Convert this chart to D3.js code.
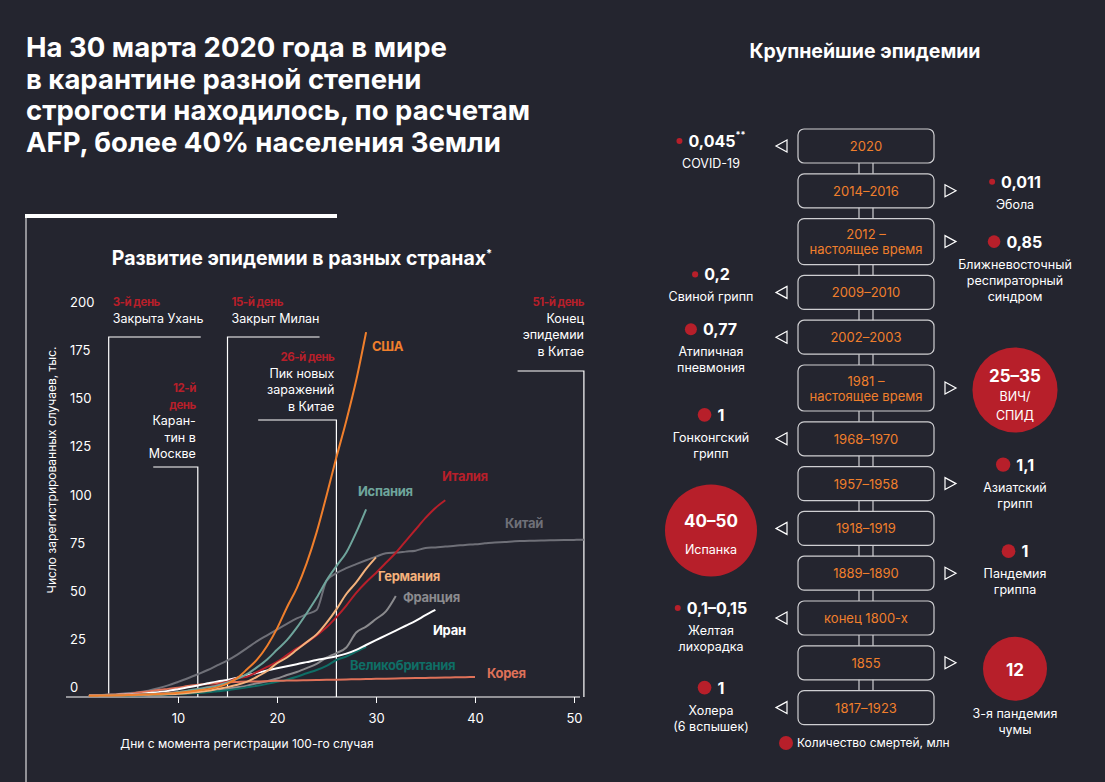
<!DOCTYPE html>
<html><head><meta charset="utf-8">
<script src="https://cdn.jsdelivr.net/npm/d3@7"></script>
<style>body{margin:0;background:#24252f}svg{display:block}text{font-family:"Helvetica Neue",Inter,"Liberation Sans",sans-serif}</style>
</head><body><svg id="c" width="1105" height="782"></svg>
<script>
// ---- data: confirmed cases, thousands, by day since 100th case (day 1..n)
const countries = ['США','Испания','Италия','Китай','Германия','Франция','Иран','Великобритания','Корея'];
const usa = [0.1,0.2,0.3,0.4,0.5,0.6,0.8,1.0,1.3,1.7,2.2,2.9,3.5,4.6,6.4,9.4,14,19,26,35,46,56,69,85,104,124,143,164,189];
const spain = [0.1,0.2,0.3,0.4,0.5,0.7,0.9,1.2,1.6,2.1,2.8,3.6,4.5,5.5,7,9,11.5,15,19,24,29,35.5,43,51,60,67.5,74.5,85,97];
const italy = [0.15,0.2,0.3,0.4,0.6,0.8,1.0,1.2,1.7,2.0,2.5,3.1,4.6,5.9,7.4,9.2,10.1,12.5,15.1,17.7,21.2,24.7,27.9,31.5,35.7,41,47,53.6,59.1,63.9,69.2,74.4,80.5,86.5,92.5,97.7,101.7];
const china = [0.3,0.5,0.8,1.1,1.5,2.0,2.8,4.0,5.5,7.3,9.2,11.3,13.5,16,18.5,21.5,25,28.5,31.5,34.5,37.5,40.3,42.5,44.7,59.8,63.8,66.4,68.5,70.5,72.4,74.1,74.5,75,75.5,76.9,77.2,77.7,78.0,78.5,78.8,79.3,79.8,80.0,80.4,80.5,80.7,80.8,80.9,81.0,81.1,81.2];
const germany = [0.1,0.15,0.2,0.3,0.4,0.5,0.7,0.8,1.0,1.2,1.6,2.1,2.7,3.7,4.6,5.8,7.5,10,13,17,20,24,28,32,38,45,53,59,66,72];
const france = [0.1,0.13,0.18,0.2,0.3,0.4,0.6,0.7,0.9,1.1,1.4,1.8,2.3,2.9,3.7,4.5,5.4,6.6,7.7,9.1,10.9,12.5,14.5,16.7,19.9,22.3,25.2,33,36,40,44,52];
const iran = [0.15,0.25,0.4,0.6,0.8,1.0,1.5,2.0,2.6,3.5,4.5,5.5,6.6,7.6,8.3,9.5,10.8,12,13.2,14.4,15.5,16.5,17.6,18.7,19.6,20.6,22,24,26.5,29,31.5,34,36.5,39,42,44.7];
const uk = [0.1,0.15,0.2,0.25,0.3,0.4,0.5,0.6,0.8,1.0,1.3,1.6,2.0,2.5,3.0,3.7,4.5,5.3,6.3,7.4,8.5,10,11.8,13.5,15.7,18.7,20.5,23,25.6];
const korea = [0.2,0.35,0.6,0.8,1.1,1.8,2.3,3.1,3.7,4.3,5.2,5.8,6.3,6.8,7.1,7.3,7.5,7.5,7.7,7.9,8.0,8.1,8.2,8.3,8.4,8.5,8.6,8.7,8.8,8.9,9.0,9.1,9.2,9.3,9.4,9.5,9.6,9.7,9.8,9.9];
const xTicks = [10,20,30,40,50];
const yTicks = [0,25,50,75,100,125,150,175,200];
// events: day, red head, text lines
const eventDays = [3,12,15,26,51];
const eventHeads = ['3-й день',['12-й','день'],'15-й день','26-й день','51-й день'];
const eventTexts = [['Закрыта Ухань'],['Каран-','тин в','Москве'],['Закрыт Милан'],['Пик новых','заражений','в Китае'],['Конец','эпидемии','в Китае']];

// epidemics timeline
const periods = ['2020','2014–2016','2012 –|настоящее время','2009–2010','2002–2003','1981 –|настоящее время','1968–1970','1957–1958','1918–1919','1889–1890','конец 1800-х','1855','1817–1923'];
const sides = ['L','R','R','L','L','R','L','R','L','R','L','R','L'];
const deathLabels = ['0,045','0,011','0,85','0,2','0,77','25–35','1','1,1','40–50','1','0,1–0,15','12','1'];
const deathValues = [0.045,0.011,0.85,0.2,0.77,30,1,1.1,45,1,0.125,12,1];
const names = [['COVID-19'],['Эбола'],['Ближневосточный','респираторный','синдром'],['Свиной грипп'],['Атипичная','пневмония'],['ВИЧ/','СПИД'],['Гонконгский','грипп'],['Азиатский','грипп'],['Испанка'],['Пандемия','гриппа'],['Желтая','лихорадка'],['3-я пандемия','чумы'],['Холера','(6 вспышек)']];

// ---- layout
const svg = d3.select('#c');
const W = 1105, H = 782;
const colors = {'США':'#f07f2c','Испания':'#6fa59c','Италия':'#b81f2a','Китай':'#6f7078','Германия':'#f4b27c','Франция':'#8b8b8e','Иран':'#ffffff','Великобритания':'#0f6e66','Корея':'#df7159'};
const seriesArr = [usa,spain,italy,china,germany,france,iran,uk,korea];
const labelPos = {'США':[372,351],'Испания':[358,496],'Италия':[442,481],'Китай':[505,528],'Германия':[378,581],'Франция':[403,602],'Иран':[433,635],'Великобритания':[350,670],'Корея':[487,678]};
const red = '#b71f2a';

svg.append('rect').attr('width',W).attr('height',H).attr('fill','#24252f');

// title
const title = ['На 30 марта 2020 года в мире','в карантине разной степени','строгости находилось, по расчетам','AFP, более 40% населения Земли'];
svg.append('g').selectAll('text').data(title).join('text')
  .attr('x',26).attr('y',(d,i)=>57+i*31.5)
  .attr('fill','#fff').attr('font-family','"Liberation Serif",serif').attr('font-weight','bold').attr('font-size',27.5)
  .text(d=>d);

svg.append('line').attr('x1',25).attr('x2',337).attr('y1',216).attr('y2',216).attr('stroke','#fff').attr('stroke-width',4);
svg.append('line').attr('x1',26).attr('x2',26).attr('y1',216).attr('y2',782).attr('stroke','#fff').attr('stroke-width',1);

const st = svg.append('text').attr('x',302).attr('y',265).attr('text-anchor','middle')
  .attr('fill','#fff').attr('font-family','"Liberation Serif",serif').attr('font-weight','bold').attr('font-size',19.5);
st.append('tspan').text('Развитие эпидемии в разных странах');
st.append('tspan').attr('font-size',11).attr('dy',-8).text('*');

// scales
const x = d3.scaleLinear().domain([0,50]).range([79,574]);
const y = d3.scaleLinear().domain([0,200]).range([696,311]);

// axes
const xAxis = d3.axisBottom(x).tickValues(xTicks).tickSize(6).tickSizeOuter(0);
const gx = svg.append('g').attr('transform','translate(0,697)').call(xAxis);
gx.select('.domain').remove();
gx.selectAll('line').attr('stroke','#fff');
gx.selectAll('text').attr('fill','#fff').attr('font-size',13).attr('dy','1.3em');
svg.append('line').attr('x1',66).attr('x2',580).attr('y1',697).attr('y2',697).attr('stroke','#fff').attr('stroke-width',1.2);

svg.append('g').selectAll('text').data(yTicks).join('text')
  .attr('x',70).attr('y',d=>y(d)-4).attr('fill','#fff').attr('font-size',13).text(d=>d);

svg.append('text').attr('transform','translate(56,470) rotate(-90)').attr('text-anchor','middle')
  .attr('fill','#fff').attr('font-size',12).text('Число зарегистрированных случаев, тыс.');
svg.append('text').attr('x',247).attr('y',748).attr('text-anchor','middle')
  .attr('fill','#fff').attr('font-size',12).text('Дни с момента регистрации 100-го случая');

// event markers
const evTop = [337,467,337,420,371];
const evHoriz = [12.3,7.5,24.3,18.1,44.3];
const ev = svg.append('g');
eventDays.forEach((d,i)=>{
  const xx = x(d);
  ev.append('path').attr('d',`M${x(evHoriz[i])},${evTop[i]}H${xx}V697`)
    .attr('fill','none').attr('stroke','#fff').attr('stroke-width',1.2);
  const leftAlign = (i===0||i===2);
  const anchor = leftAlign?'start':'end';
  const tx = leftAlign?xx+4:(i===4?584:xx-2);
  const heads = Array.isArray(eventHeads[i])?eventHeads[i]:[eventHeads[i]];
  const lines = heads.map(h=>({t:h,h:true})).concat(eventTexts[i].map(t=>({t,h:false})));
  const y0 = [306,392,306,361,306][i];
  lines.forEach((l,j)=>{
    ev.append('text').attr('x',tx).attr('y',y0+j*16.5).attr('text-anchor',anchor)
      .attr('fill',l.h?red:'#fff').attr('font-weight',l.h?'bold':'normal')
      .attr('font-size',l.h?11.5:12.5).attr('letter-spacing',l.h?-0.5:0).text(l.t);
  });
});

// lines
const line = d3.line().x((d,i)=>x(i+1)).y(d=>y(d)).curve(d3.curveMonotoneX);
const drawOrder = [3,5,7,8,6,2,4,1,0];
drawOrder.forEach(k=>{
  svg.append('path').datum(seriesArr[k]).attr('d',line)
    .attr('fill','none').attr('stroke',colors[countries[k]]).attr('stroke-width',2);
});
countries.forEach(c=>{
  svg.append('text').attr('x',labelPos[c][0]).attr('y',labelPos[c][1])
    .attr('fill',colors[c]).attr('font-weight','bold').attr('font-size',13).attr('letter-spacing',-0.3).text(c);
});

// ---- right panel
svg.append('text').attr('x',865).attr('y',58).attr('text-anchor','middle')
  .attr('fill','#fff').attr('font-family','"Liberation Serif",serif').attr('font-weight','bold').attr('font-size',19.5)
  .text('Крупнейшие эпидемии');

const bx = 798, bw = 136, hs = 34, hd = 46, gap = 10.8;
let yTop = 129;
const boxes = periods.map(p=>{
  const lines = p.split('|');
  const h = lines.length>1?hd:hs;
  const b = {lines, y:yTop, h, c:yTop+h/2};
  yTop += h+gap;
  return b;
});
const tl = svg.append('g');
boxes.forEach((b,i)=>{
  if(i>0){
    const py = boxes[i-1].y+boxes[i-1].h;
    tl.append('rect').attr('x',bx+bw/2-7).attr('y',py-4).attr('width',14).attr('height',b.y-py+8).attr('rx',4)
      .attr('fill','#24252f').attr('stroke','#cfcfd2').attr('stroke-width',1.2);
  }
});
boxes.forEach((b,i)=>{
  tl.append('rect').attr('x',bx).attr('y',b.y).attr('width',bw).attr('height',b.h).attr('rx',6)
    .attr('fill','#24252f').attr('stroke','#cfcfd2').attr('stroke-width',1.2);
  b.lines.forEach((l,j)=>{
    tl.append('text').attr('x',bx+bw/2).attr('y',b.c+5+(j-(b.lines.length-1)/2)*15)
      .attr('text-anchor','middle').attr('fill','#f07f2c').attr('font-size',13).text(l);
  });
  const L = sides[i]==='L';
  const ax = L?781:951;
  const pts = L?[[ax+6,b.c-6],[ax-5,b.c],[ax+6,b.c+6]]:[[ax-6,b.c-6],[ax+5,b.c],[ax-6,b.c+6]];
  tl.append('path').attr('d','M'+pts.join('L')+'Z').attr('fill','none').attr('stroke','#fff').attr('stroke-width',1.2);
});

const r = d3.scaleSqrt().domain([0,45]).range([0,46]);
const shift = [-5,-9,0,-18,-8,0,-24,-19,0,-22,-10,0,-20];
const ep = svg.append('g');
deathValues.forEach((v,i)=>{
  const cx = sides[i]==='L'?711:1015;
  const c = boxes[i].c;
  const rad = Math.max(3,r(v));
  if(rad>20){
    const cy = i===11?c+6:c+2;
    ep.append('circle').attr('cx',cx).attr('cy',cy).attr('r',i===11?32:rad+(i===5?5:0)).attr('fill',red);
    const inside = i===11?[deathLabels[i]]:[deathLabels[i]].concat(names[i]);
    inside.forEach((t,j)=>{
      const yy = i===5?cy-8+j*19:(i===8?cy-3+j*27:cy+7);
      ep.append('text').attr('x',cx).attr('y',yy).attr('text-anchor','middle').attr('fill','#fff')
        .attr('font-weight',j===0?'bold':'normal').attr('font-size',j===0?17:12.5).text(t);
    });
    if(i===11) names[i].forEach((t,j)=>{
      ep.append('text').attr('x',cx).attr('y',cy+49+j*16).attr('text-anchor','middle').attr('fill','#fff').attr('font-size',12.5).text(t);
    });
    return;
  }
  const vy = c+shift[i];
  const g = ep.append('g');
  const tv = g.append('text').attr('y',vy+6).attr('fill','#fff').attr('font-weight','bold').attr('font-size',16).text(deathLabels[i]);
  if(i===0) tv.append('tspan').attr('font-size',9).attr('dy',-9).text('**');
  const tw = tv.node().getComputedTextLength();
  const total = 2*rad+6+tw;
  const x0 = cx-total/2;
  g.append('circle').attr('cx',x0+rad).attr('cy',vy).attr('r',rad).attr('fill',red);
  tv.attr('x',x0+2*rad+6);
  names[i].forEach((t,j)=>{
    ep.append('text').attr('x',cx).attr('y',vy+27+j*16).attr('text-anchor','middle').attr('fill','#fff').attr('font-size',12.5).text(t);
  });
});

svg.append('circle').attr('cx',786).attr('cy',743).attr('r',7).attr('fill',red);
svg.append('text').attr('x',797).attr('y',747).attr('fill','#fff').attr('font-size',12).text('Количество смертей, млн');
</script></body></html>
